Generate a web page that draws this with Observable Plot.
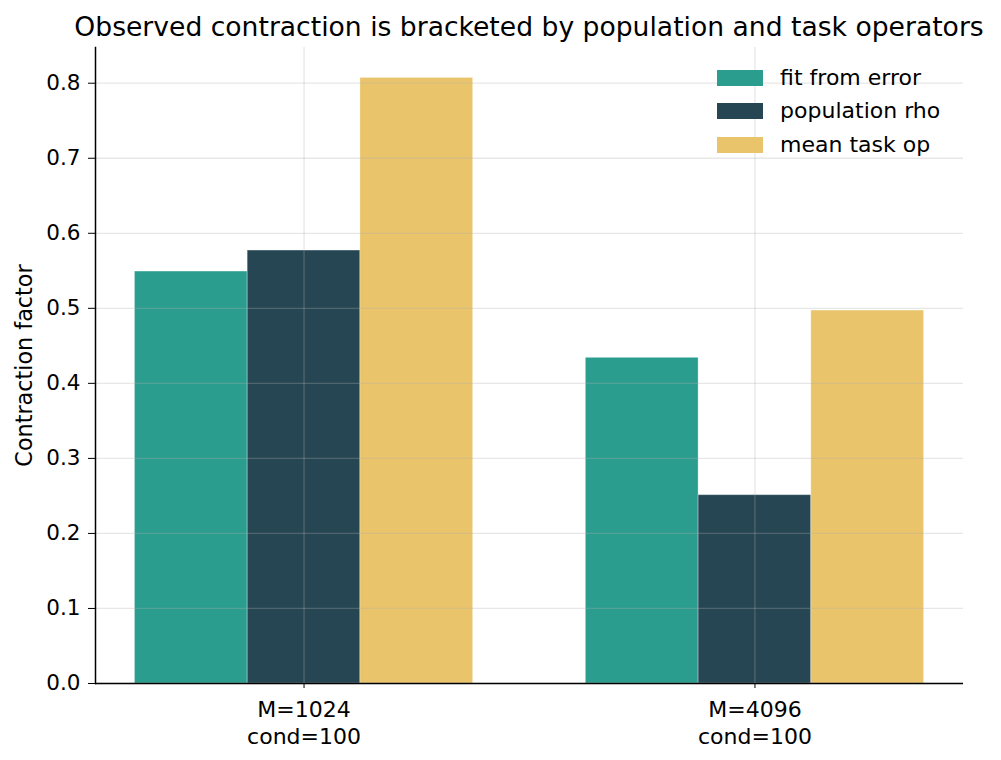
<!DOCTYPE html>
<html><head><meta charset="utf-8">
<script src="https://cdn.jsdelivr.net/npm/d3@7"></script>
<script src="https://cdn.jsdelivr.net/npm/@observablehq/plot@0.6"></script>
<style>
body{margin:0;background:#fff;font-family:"DejaVu Sans",sans-serif;color:#000;}
#wrap{position:relative;width:1001px;height:760px;}
#title{position:relative;height:46px;}
#title span{position:absolute;left:529px;top:8px;line-height:38px;font-size:26.6px;transform:translateX(-50%);white-space:nowrap;}
#legend{position:absolute;left:717px;top:61px;}
.row{display:flex;align-items:center;height:33.5px;}
.sw{width:45.6px;height:16px;margin-right:17.5px;}
.lab{font-size:22px;line-height:24px;white-space:nowrap;}
</style></head>
<body><div id="wrap"><div id="title"><span>Observed contraction is bracketed by population and task operators</span></div><div id="chart"></div><div id="legend"></div></div>
<script>
const groups = ["M=1024\ncond=100", "M=4096\ncond=100"];
const series = ["fit from error", "population rho", "mean task op"];
const fitFromError = [0.549, 0.434];
const populationRho = [0.577, 0.251];
const meanTaskOp = [0.807, 0.497];
const colors = ["#2a9d8f", "#264653", "#e9c46a"];
const yTicks = [0.0, 0.1, 0.2, 0.3, 0.4, 0.5, 0.6, 0.7, 0.8];
const yLabel = "Contraction factor";

const barWidth = 0.25;
const valuesBySeries = [fitFromError, populationRho, meanTaskOp];
const rows = [];
groups.forEach((g, gi) => series.forEach((s, si) => {
  const c = gi + (si - 1) * barWidth;
  rows.push({group: g, series: s, value: valuesBySeries[si][gi], x1: c - barWidth / 2, x2: c + barWidth / 2});
}));
const groupIdx = groups.map((g, i) => i);

const chart = Plot.plot({
  width: 1001, height: 714,
  marginLeft: 95, marginRight: 38, marginTop: 1, marginBottom: 77,
  style: {fontFamily: "DejaVu Sans", fontSize: "21.5px", color: "#000", background: "white"},
  x: {domain: [-0.4625, 1.4625], axis: null},
  y: {domain: [0, 0.8476], axis: null},
  color: {domain: series, range: colors},
  marks: [
    Plot.rectY(rows, {x1: "x1", x2: "x2", y: "value", fill: "series", stroke: "white", strokeOpacity: 0.3, strokeWidth: 1}),
    Plot.gridY(yTicks, {stroke: "#b0b0b0", strokeOpacity: 0.3, strokeWidth: 1.3}),
    Plot.gridX(groupIdx, {stroke: "#b0b0b0", strokeOpacity: 0.3, strokeWidth: 1.3}),
    Plot.axisX(groupIdx, {anchor: "bottom", tickSize: 5, tickPadding: 10, label: null, lineHeight: 1.2, tickFormat: i => groups[i], fontSize: 22}),
    Plot.axisY(yTicks, {tickFormat: d3.format(".1f"), tickSize: 7, tickPadding: 8, label: null, fontSize: 21.5}),
    Plot.axisY({tickSize: 0, ticks: [], label: yLabel, labelAnchor: "center", labelOffset: 79, labelArrow: "none", fontSize: 22.3}),
    Plot.frame({anchor: "left", stroke: "#000", strokeWidth: 1.5}),
    Plot.ruleY([0], {stroke: "#000", strokeWidth: 1.5})
  ]
});
document.getElementById("chart").appendChild(chart);

const legend = document.getElementById("legend");
series.forEach((s, i) => {
  const r = document.createElement("div"); r.className = "row";
  const sw = document.createElement("div"); sw.className = "sw"; sw.style.background = colors[i];
  const lb = document.createElement("div"); lb.className = "lab"; lb.textContent = s;
  r.appendChild(sw); r.appendChild(lb); legend.appendChild(r);
});
</script></body></html>
